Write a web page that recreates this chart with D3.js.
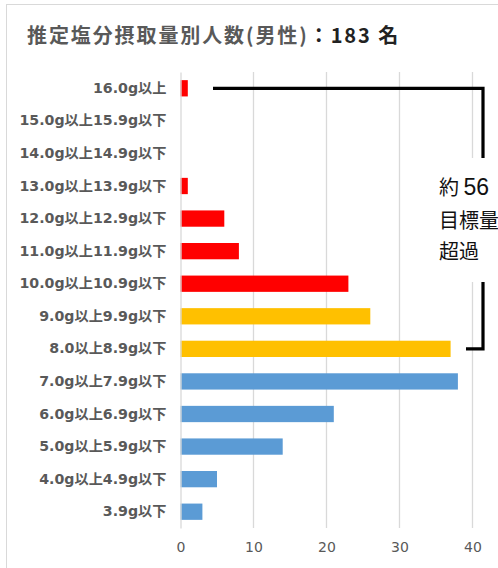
<!DOCTYPE html>
<html>
<head>
<meta charset="utf-8">
<script src="https://cdn.jsdelivr.net/npm/d3@7"></script>
<style>
  body { margin: 0; background: #fff; }
  svg { display: block; }
</style>
</head>
<body>
<div id="chart"></div>
<script>
// categories, top to bottom
const categories = [
  '16.0g以上', '15.0g以上15.9g以下', '14.0g以上14.9g以下', '13.0g以上13.9g以下',
  '12.0g以上12.9g以下', '11.0g以上11.9g以下', '10.0g以上10.9g以下', '9.0g以上9.9g以下',
  '8.0以上8.9g以下', '7.0g以上7.9g以下', '6.0g以上6.9g以下', '5.0g以上5.9g以下',
  '4.0g以上4.9g以下', '3.9g以下'
];
const counts = [1, 0, 0, 1, 6, 8, 23, 26, 37, 38, 21, 14, 5, 3];
const groups = ['over', 'over', 'over', 'over', 'over', 'over', 'over', 'near', 'near',
  'ok', 'ok', 'ok', 'ok', 'ok'];
const xTicks = [0, 10, 20, 30, 40];
const noteLines = ['目標量', '超過'];

const width = 498, height = 568;
const margin = { top: 72, right: 26, bottom: 40, left: 180.5 };

const colors = { over: '#ff0000', near: '#ffc000', ok: '#5b9bd5' };

const svg = d3.select('#chart').append('svg')
  .attr('width', width)
  .attr('height', height);

// chart frame
svg.append('rect')
  .attr('x', 6.5).attr('y', 4.5)
  .attr('width', 520).attr('height', 600)
  .attr('fill', '#fff')
  .attr('stroke', '#d9d9d9');

// title
const title = svg.append('text')
  .attr('x', 27).attr('y', 43)
  .attr('font-family', 'Noto Sans CJK JP')
  .attr('font-size', 20)
  .attr('letter-spacing', 1.9)
  .attr('font-weight', 'bold');
title.append('tspan').attr('fill', '#595959').text('推定塩分摂取量別人数(男性)');
title.append('tspan').attr('fill', '#222').text('：183 名');

const x = d3.scaleLinear()
  .domain([0, 40])
  .range([margin.left, 472.5]);

const y = d3.scaleBand()
  .domain(categories)
  .range([margin.top, height - margin.bottom])
  .paddingInner(0.5)
  .paddingOuter(0.25);

// gridlines
svg.append('g')
  .selectAll('line')
  .data(xTicks.slice(1))
  .join('line')
  .attr('x1', d => x(d)).attr('x2', d => x(d))
  .attr('y1', margin.top).attr('y2', height - margin.bottom)
  .attr('stroke', '#d9d9d9')
  .attr('stroke-width', 1.3);

// x tick labels
const xAxis = svg.append('g')
  .attr('transform', `translate(0, ${height - margin.bottom})`)
  .call(d3.axisBottom(x).tickValues(xTicks).tickSize(0).tickPadding(14));
xAxis.select('.domain').remove();
xAxis.selectAll('text')
  .attr('fill', '#595959')
  .attr('font-family', 'Verdana, DejaVu Sans')
  .attr('font-size', 14);

// bars
svg.append('g')
  .selectAll('rect')
  .data(categories)
  .join('rect')
  .attr('x', x(0))
  .attr('y', d => y(d))
  .attr('width', (d, i) => x(counts[i]) - x(0))
  .attr('height', y.bandwidth())
  .attr('fill', (d, i) => colors[groups[i]]);

// y axis
const yAxis = svg.append('g')
  .attr('transform', `translate(${margin.left}, 0)`)
  .call(d3.axisLeft(y).tickSize(0).tickPadding(14));
yAxis.select('.domain')
  .attr('stroke', '#d9d9d9')
  .attr('stroke-width', 1.3);
yAxis.selectAll('text')
  .attr('fill', '#595959')
  .attr('font-family', 'DejaVu Sans, Noto Sans CJK JP')
  .attr('font-size', 14.2)
  .attr('font-weight', 'bold');

// bracket over the target-exceeding rows
const bx = 483;
const yTop = y(categories[0]) + y.bandwidth() / 2;
const yBot = y(categories[8]) + y.bandwidth() / 2;
svg.append('path')
  .attr('d', `M213,${yTop} H${bx} V${yBot} H${bx - 17}`)
  .attr('fill', 'none')
  .attr('stroke', '#000')
  .attr('stroke-width', 3.2);

// note box
svg.append('rect')
  .attr('x', 436).attr('y', 158)
  .attr('width', 70).attr('height', 124)
  .attr('fill', '#fff');

const note = svg.append('g')
  .attr('font-family', 'Noto Sans CJK JP')
  .attr('font-size', 20)
  .attr('fill', '#111');
const first = note.append('text').attr('x', 439).attr('y', 195);
first.append('tspan').text('約 ');
first.append('tspan')
  .attr('font-family', 'Liberation Sans, Arial')
  .attr('font-size', 23)
  .text('56');
note.selectAll('text.line')
  .data(noteLines)
  .join('text')
  .attr('class', 'line')
  .attr('x', 439)
  .attr('y', (d, i) => 228 + i * 31)
  .text(d => d);
</script>
</body>
</html>
